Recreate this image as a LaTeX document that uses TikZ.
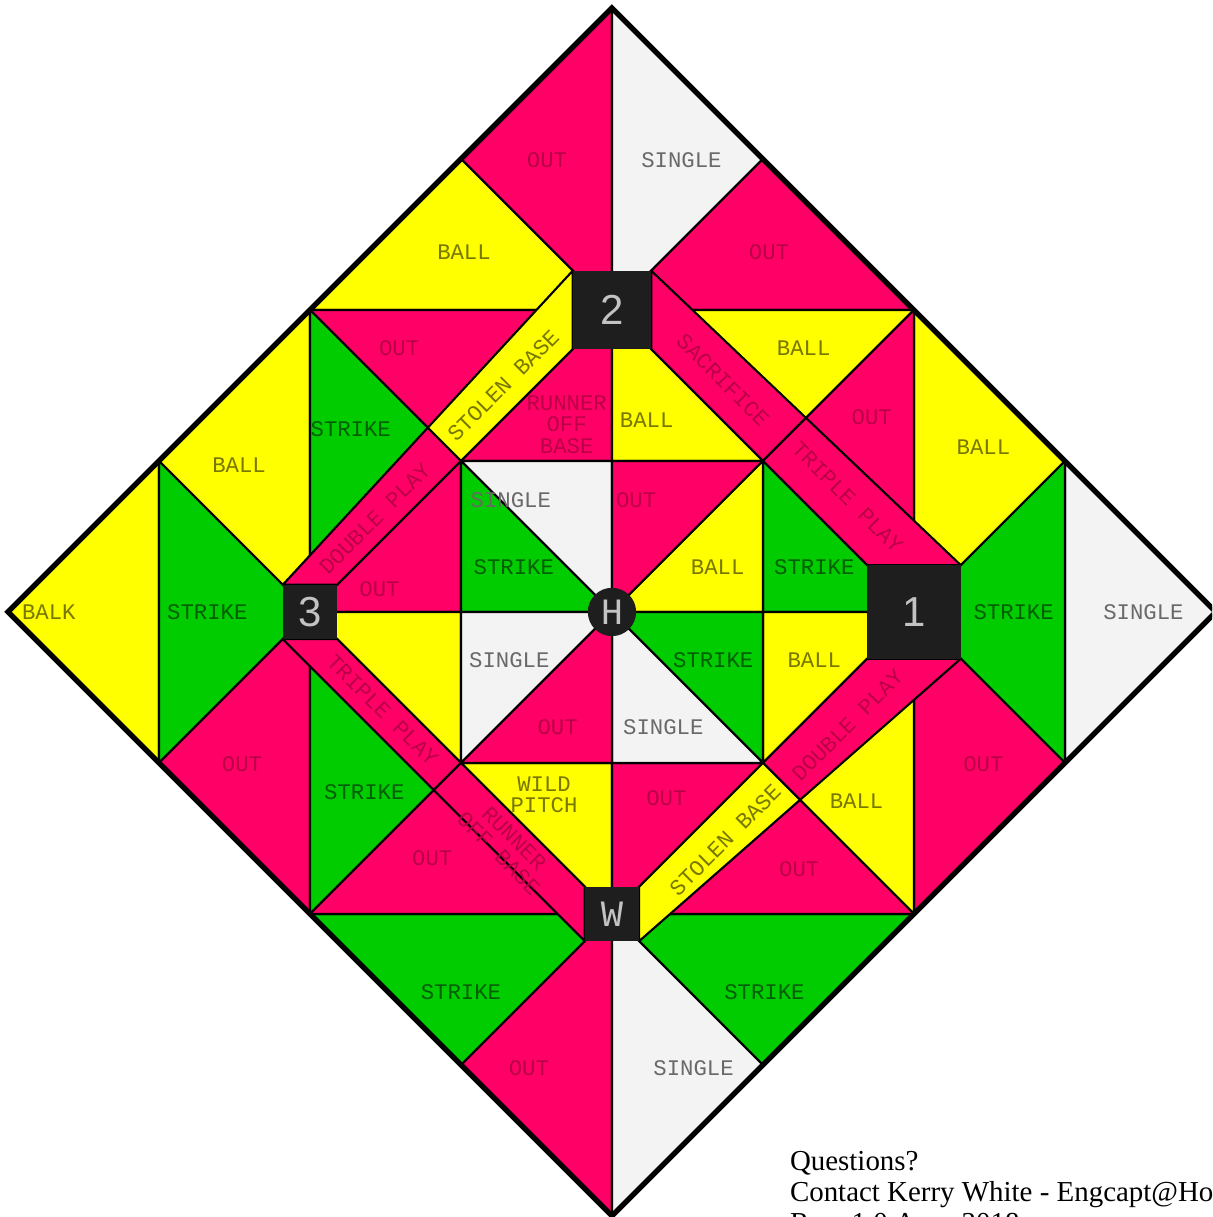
\documentclass[tikz,border=0pt]{standalone}
\usepackage{fontspec}
\setmainfont{Liberation Serif}
\newfontfamily\lblfont{Liberation Mono}
\newfontfamily\digfont{Liberation Sans}
\definecolor{mag}{RGB}{255,0,102}
\definecolor{yel}{RGB}{255,255,0}
\definecolor{grn}{RGB}{0,204,0}
\definecolor{wht}{RGB}{243,243,243}
\definecolor{tmag}{RGB}{185,0,70}
\definecolor{tyel}{RGB}{120,120,0}
\definecolor{tgrn}{RGB}{0,95,0}
\definecolor{twht}{RGB}{105,105,105}
\definecolor{basec}{RGB}{30,30,30}
\definecolor{basetxt}{RGB}{195,195,195}
\begin{document}
\begin{tikzpicture}[
  reg/.style={draw=black, line width=0.4pt, line join=round},
  rmag/.style={reg, fill=mag},
  ryel/.style={reg, fill=yel},
  rgrn/.style={reg, fill=grn},
  rwht/.style={reg, fill=wht},
  lbl/.style={font=\lblfont\fontsize{4.2}{4.1}\selectfont, inner sep=0pt, align=center},
  lmag/.style={lbl, text=tmag},
  lyel/.style={lbl, text=tyel},
  lgrn/.style={lbl, text=tgrn},
  lwht/.style={lbl, text=twht},
  basesq/.style={fill=basec, inner sep=0pt, text=basetxt, font=\digfont\fontsize{7.9}{8}\selectfont},
  baseltr/.style={fill=basec, inner sep=0pt, text=basetxt, font=\lblfont\fontsize{7}{7}\selectfont},
  note/.style={font=\fontsize{5.45}{5.45}\selectfont, inner sep=0pt, anchor=base west}
]
\useasboundingbox (-4.053,-4.007) rectangle (3.974,4.053);
\clip (-4.053,-4.007) rectangle (3.974,4.053);

% ---------- top cap ----------
\draw[rmag] (0,4)--(-1,3)--(0,2)--cycle;
\draw[rwht] (0,4)--(1,3)--(0,2)--cycle;
\draw[ryel] (-1,3)--(-2,2)--(0,2)--cycle;
\draw[rmag] (1,3)--(2,2)--(0,2)--cycle;
% ---------- bottom cap ----------
\draw[rmag] (0,-4)--(-1,-3)--(0,-2)--cycle;
\draw[rwht] (0,-4)--(1,-3)--(0,-2)--cycle;
\draw[rgrn] (-1,-3)--(-2,-2)--(0,-2)--cycle;
\draw[rgrn] (1,-3)--(2,-2)--(0,-2)--cycle;
% ---------- left cap ----------
\draw[ryel] (-4,0)--(-3,1)--(-3,-1)--cycle;
\draw[rgrn] (-3,1)--(-2,0)--(-3,-1)--cycle;
\draw[ryel] (-3,1)--(-2,2)--(-2,0)--cycle;
\draw[rmag] (-3,-1)--(-2,-2)--(-2,0)--cycle;
% ---------- right cap ----------
\draw[rwht] (4,0)--(3,1)--(3,-1)--cycle;
\draw[rgrn] (3,1)--(2,0)--(3,-1)--cycle;
\draw[ryel] (3,1)--(2,2)--(2,0)--cycle;
\draw[rmag] (3,-1)--(2,-2)--(2,0)--cycle;
% ---------- upper-left block ----------
\draw[rmag] (-2,2)--(0,2)--(-1,1)--cycle;
\draw[rgrn] (-2,2)--(-2,0)--(-1,1)--cycle;
\draw[rmag] (-1,1)--(0,1)--(0,2)--cycle;
\draw[rmag] (-1,1)--(-2,0)--(-1,0)--cycle;
% ---------- upper-right block ----------
\draw[ryel] (2,2)--(0,2)--(1,1)--cycle;
\draw[rmag] (2,2)--(2,0)--(1,1)--cycle;
\draw[ryel] (0,2)--(0,1)--(1,1)--cycle;
\draw[rgrn] (1,1)--(1,0)--(2,0)--cycle;
% ---------- lower-left block ----------
\draw[rgrn] (-2,-2)--(-2,0)--(-1,-1)--cycle;
\draw[rmag] (-2,-2)--(0,-2)--(-1,-1)--cycle;
\draw[ryel] (-2,0)--(-1,0)--(-1,-1)--cycle;
\draw[ryel] (-1,-1)--(0,-1)--(0,-2)--cycle;
% ---------- lower-right block ----------
\draw[ryel] (2,-2)--(2,0)--(1,-1)--cycle;
\draw[rmag] (2,-2)--(0,-2)--(1,-1)--cycle;
\draw[ryel] (1,0)--(2,0)--(1,-1)--cycle;
\draw[rmag] (0,-1)--(1,-1)--(0,-2)--cycle;
% ---------- inner square ----------
\draw[rwht] (-1,1)--(0,1)--(0,0)--cycle;
\draw[rgrn] (-1,1)--(-1,0)--(0,0)--cycle;
\draw[rmag] (0,0)--(0,1)--(1,1)--cycle;
\draw[ryel] (0,0)--(1,1)--(1,0)--cycle;
\draw[rgrn] (0,0)--(1,0)--(1,-1)--cycle;
\draw[rwht] (0,0)--(1,-1)--(0,-1)--cycle;
\draw[rwht] (-1,0)--(0,0)--(-1,-1)--cycle;
\draw[rmag] (0,0)--(-1,-1)--(0,-1)--cycle;

% ---------- base-path strips ----------
\draw[rmag] (-1.82,0.18)--(-2.18,0.18)--(-1.22,1.22)--(-1,1)--cycle;
\draw[ryel] (-1,1)--(-1.22,1.22)--(-0.26,2.26)--(-0.26,1.74)--cycle;
\draw[rmag] (0.26,1.74)--(0.26,2.26)--(1.285,1.285)--(1,1)--cycle;
\draw[rmag] (1,1)--(1.285,1.285)--(2.31,0.31)--(1.69,0.31)--cycle;
\draw[rmag] (1.69,-0.31)--(2.31,-0.31)--(1.245,-1.245)--(1,-1)--cycle;
\draw[ryel] (1,-1)--(1.245,-1.245)--(0.18,-2.18)--(0.18,-1.82)--cycle;
\draw[rmag] (-1.82,-0.18)--(-2.18,-0.18)--(-1.18,-1.18)--(-1,-1)--cycle;
\draw[rmag] (-1,-1)--(-1.18,-1.18)--(-0.18,-2.18)--(-0.18,-1.82)--cycle;

% ---------- outer border ----------
\draw[line width=1pt, line join=miter] (0,4)--(4,0)--(0,-4)--(-4,0)--cycle;

% ---------- bases ----------
\node[basesq, minimum size=0.52cm] (b2) at (0,2) {2};
\node[basesq, minimum size=0.62cm] (b1) at (2,0) {1};
\node[basesq, minimum size=0.36cm] (b3) at (-2,0) {3};
\node[baseltr, minimum size=0.36cm] (bw) at (0,-2) {W};
\node[baseltr, circle, minimum size=0.32cm] (bh) at (0,0) {H};

% ---------- region labels ----------
\node[lmag] (t1) at (-0.43,2.99) {OUT};
\node[lwht] (t2) at (0.46,2.99) {SINGLE};
\node[lyel] (t3) at (-0.98,2.38) {BALL};
\node[lmag] (t4) at (1.04,2.38) {OUT};
\node[lmag] (t5) at (-1.41,1.75) {OUT};
\node[lgrn] (t6) at (-1.73,1.21) {STRIKE};
\node[lmag] (t7) at (-0.30,1.24) {RUNNER\\OFF\\BASE};
\node[lyel] (t8) at (0.23,1.27) {BALL};
\node[lyel] (t9) at (1.27,1.75) {BALL};
\node[lmag] (t10) at (1.72,1.29) {OUT};
\node[lyel] (t11) at (-2.47,0.97) {BALL};
\node[lyel] (t12) at (-3.73,0) {BALK};
\node[lgrn] (t13) at (-2.68,0) {STRIKE};
\node[lmag] (t14) at (-1.54,0.15) {OUT};
\node[lmag] (t15) at (-2.45,-1.01) {OUT};
\node[lgrn] (t16) at (-1.64,-1.19) {STRIKE};
\node[lmag] (t17) at (-1.19,-1.63) {OUT};
\node[lyel] (t18) at (2.46,1.09) {BALL};
\node[lgrn] (t19) at (2.66,0) {STRIKE};
\node[lwht] (t20) at (3.52,0) {SINGLE};
\node[lgrn] (t21) at (1.34,0.30) {STRIKE};
\node[lyel] (t22) at (1.34,-0.32) {BALL};
\node[lmag] (t23) at (2.46,-1.01) {OUT};
\node[lyel] (t24) at (1.62,-1.25) {BALL};
\node[lmag] (t25) at (1.24,-1.70) {OUT};
\node[lwht] (t26) at (-0.67,0.74) {SINGLE};
\node[lgrn] (t27) at (-0.65,0.30) {STRIKE};
\node[lmag] (t28) at (0.16,0.74) {OUT};
\node[lyel] (t29) at (0.70,0.30) {BALL};
\node[lgrn] (t30) at (0.67,-0.32) {STRIKE};
\node[lwht] (t31) at (0.34,-0.76) {SINGLE};
\node[lwht] (t32) at (-0.68,-0.32) {SINGLE};
\node[lmag] (t33) at (-0.36,-0.76) {OUT};
\node[lyel] (t34) at (-0.45,-1.21) {WILD\\PITCH};
\node[lmag] (t35) at (0.36,-1.23) {OUT};
\node[lgrn] (t36) at (-1.0,-2.52) {STRIKE};
\node[lgrn] (t37) at (1.01,-2.52) {STRIKE};
\node[lmag] (t38) at (-0.55,-3.02) {OUT};
\node[lwht] (t39) at (0.54,-3.02) {SINGLE};

% ---------- strip labels ----------
\node[lyel, rotate=45] (s1) at (-0.72,1.50) {STOLEN BASE};
\node[lmag, rotate=45] (s2) at (-1.57,0.62) {DOUBLE PLAY};
\node[lmag, rotate=-45] (s3) at (0.735,1.535) {SACRIFICE};
\node[lmag, rotate=-45] (s4) at (1.56,0.76) {TRIPLE PLAY};
\node[lmag, rotate=45] (s5) at (1.56,-0.75) {DOUBLE PLAY};
\node[lyel, rotate=45] (s6) at (0.75,-1.51) {STOLEN BASE};
\node[lmag, rotate=-45] (s7) at (-1.52,-0.65) {TRIPLE PLAY};
\node[lmag, rotate=-45] (s8) at (-0.70,-1.55) {RUNNER\\OFF BASE};

% ---------- note ----------
\node[note] (q1) at (1.172,-3.702) {Questions?};
\node[note] (q2) at (1.172,-3.907) {Contact Kerry White - Engcapt@Hotmail.com};
\node[note] (q3) at (1.172,-4.112) {Rev. 1.0 Aug. 2018};
\end{tikzpicture}
\end{document}
